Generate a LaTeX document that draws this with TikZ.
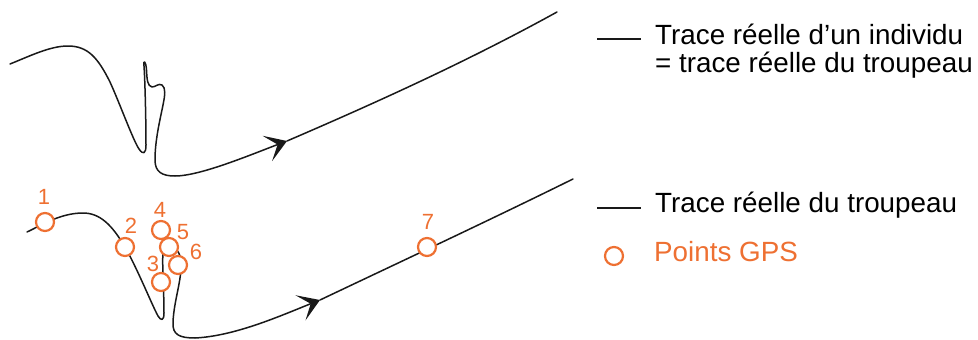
\documentclass[tikz,border=0pt]{standalone}
\usepackage{fontspec}
\setmainfont{Liberation Sans}
\usetikzlibrary{arrows.meta}
\definecolor{gpsorange}{RGB}{238,112,50}
\definecolor{traceblack}{RGB}{25,25,25}
\tikzset{
  trace/.style={line width=1.5pt, draw=traceblack, line cap=round, line join=round},
  tracearrow/.style={trace, -{Stealth[length=21pt,width=27pt,inset=11pt]}},
  gps/.style={circle, draw=gpsorange, line width=2.2pt, fill=white, minimum size=18pt, inner sep=0pt},
  num/.style={text=gpsorange, font=\fontsize{22}{22}\selectfont, anchor=base, inner sep=0pt},
  legtext/.style={font=\fontsize{27.8}{27.8}\selectfont, anchor=base west, inner sep=0pt},
}
\begin{document}
\begin{tikzpicture}[x=1pt,y=-1pt]
\useasboundingbox (0,0) rectangle (978,340);
% ---------- top trace ----------
\coordinate (ta) at (287,141);
\coordinate (tend) at (557,12);
\draw[tracearrow] (10,64) .. controls (30,56) and (50,46) .. (68,46)
  .. controls (88,46) and (98,58) .. (110,82)
  .. controls (120,104) and (133,140) .. (139,149)
  .. controls (143,155) and (146,154) .. (146,145)
  .. controls (146,120) and (145,80) .. (144,66)
  .. controls (143,59) and (146,61) .. (146.5,70)
  .. controls (147,80) and (147.5,86) .. (152,87)
  .. controls (156,87) and (158,83) .. (162,85)
  .. controls (166,88) and (165,95) .. (163,105)
  .. controls (160,120) and (155,140) .. (155,160)
  .. controls (155,172) and (162,176) .. (175,176)
  .. controls (200,176) and (250,155) .. (ta);
\draw[trace] (ta) .. controls (380,101) and (470,60) .. (tend);
% ---------- bottom trace ----------
\coordinate (ba) at (320,300);
\coordinate (bend) at (573,179);
\draw[tracearrow] (27,232) .. controls (40,226) and (60,213) .. (83,213)
  .. controls (100,213) and (112,225) .. (125,247)
  .. controls (138,270) and (152,305) .. (158,316)
  .. controls (161,321) and (164,321) .. (164,313)
  .. controls (164,290) and (162,265) .. (163,252)
  .. controls (164,243) and (180,244) .. (181,262)
  .. controls (182,280) and (174,300) .. (173,322)
  .. controls (172,335) and (180,338) .. (195,338)
  .. controls (235,336) and (280,316) .. (ba);
\draw[trace] (ba) .. controls (400,262) and (490,220) .. (bend);
% ---------- GPS points ----------
\node[gps] (g1) at (45,222) {};
\node[gps] (g2) at (125,247) {};
\node[gps] (g3) at (161,282) {};
\node[gps] (g4) at (161,230) {};
\node[gps] (g5) at (169,247) {};
\node[gps] (g6) at (178,265) {};
\node[gps] (g7) at (427,247) {};
\node[num] (l1) at (44,204) {1};
\node[num] (l2) at (131,233) {2};
\node[num] (l3) at (153,271) {3};
\node[num] (l4) at (160,217) {4};
\node[num] (l5) at (183,239) {5};
\node[num] (l6) at (196,259) {6};
\node[num] (l7) at (428,229) {7};
% ---------- legend ----------
\coordinate (k1a) at (597,39);
\coordinate (k1b) at (641,39);
\draw[trace, line cap=butt] (k1a) -- (k1b);
\node[legtext] (t1) at (655,45) {Trace réelle d’un individu};
\node[legtext] (t2) at (655,72) {= trace réelle du troupeau};
\coordinate (k2a) at (597,208);
\coordinate (k2b) at (641,208);
\draw[trace, line cap=butt] (k2a) -- (k2b);
\node[legtext] (t3) at (655,212) {Trace réelle du troupeau};
\node[gps] (kg) at (614,256) {};
\node[legtext, text=gpsorange] (t4) at (654,261) {Points GPS};
\end{tikzpicture}
\end{document}
